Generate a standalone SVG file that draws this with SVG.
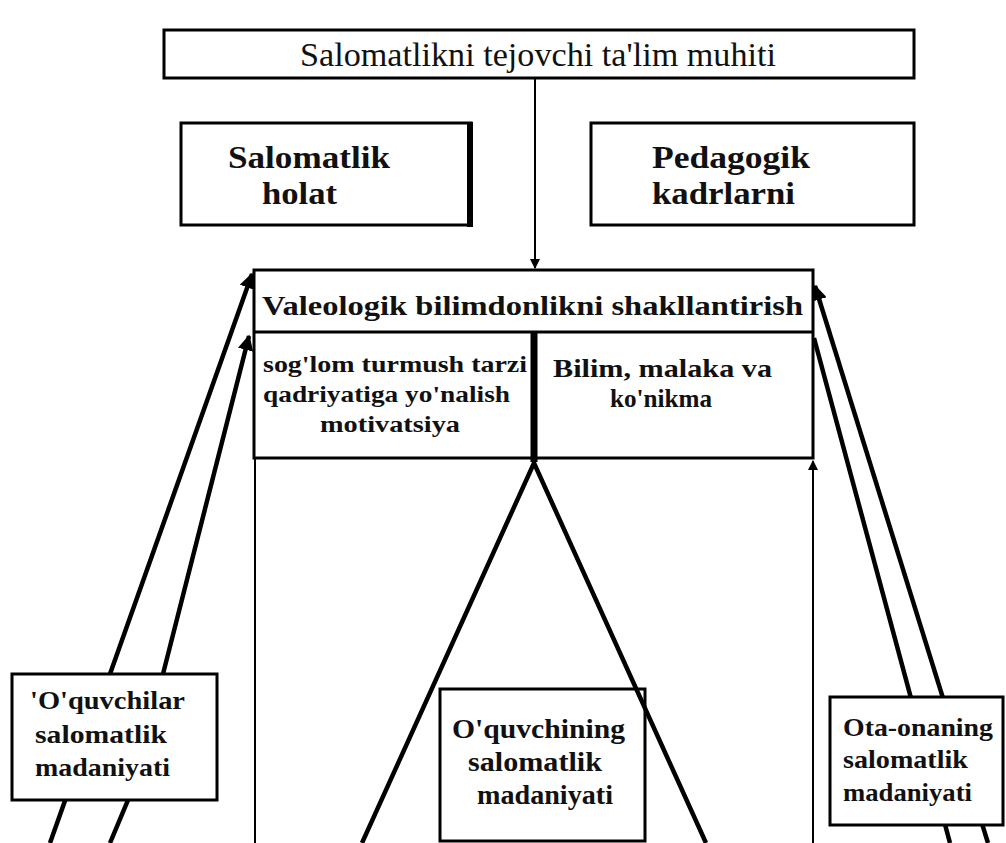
<svg xmlns="http://www.w3.org/2000/svg" width="1006" height="843" viewBox="0 0 1006 843">
<defs>
<style>
.box{fill:#fff;stroke:#000;stroke-width:3}
.t{font-family:"Liberation Serif","Times New Roman",serif;fill:#111}
.b{font-weight:bold}
.thin{stroke:#000;stroke-width:2;fill:none}
.thick{stroke:#000;stroke-width:4.5;fill:none}
</style>
<marker id="ah" viewBox="0 0 10 10" refX="9" refY="5" markerWidth="12" markerHeight="10" markerUnits="userSpaceOnUse" orient="auto">
<path d="M0,0 L10,5 L0,10 z" fill="#000"/>
</marker>
<marker id="ahs" viewBox="0 0 10 10" refX="9" refY="5" markerWidth="3.5" markerHeight="3.5" markerUnits="strokeWidth" orient="auto">
<path d="M0,0 L10,5 L0,10 z" fill="#000"/>
</marker>
</defs>
<rect width="1006" height="843" fill="#fff"/>

<g id="n-top">
<rect class="box" x="164" y="30" width="750" height="48"/>
<text class="t" x="300" y="66" font-size="33" textLength="476" lengthAdjust="spacingAndGlyphs">Salomatlikni tejovchi ta'lim muhiti</text>
</g>

<g id="n-salomatlik">
<rect class="box" x="181" y="123" width="290" height="102"/>
<line x1="470" y1="122" x2="470" y2="227" stroke="#000" stroke-width="6"/>
<text class="t b" x="228" y="168" font-size="32" textLength="162" lengthAdjust="spacingAndGlyphs">Salomatlik</text>
<text class="t b" x="262" y="204" font-size="32" textLength="75" lengthAdjust="spacingAndGlyphs">holat</text>
</g>

<g id="n-pedagogik">
<rect class="box" x="591" y="123" width="323" height="102"/>
<text class="t b" x="652" y="168" font-size="32" textLength="158" lengthAdjust="spacingAndGlyphs">Pedagogik</text>
<text class="t b" x="652" y="204" font-size="32" textLength="143" lengthAdjust="spacingAndGlyphs">kadrlarni</text>
</g>

<g id="n-valeologik">
<rect class="box" x="254" y="270" width="559" height="188"/>
<line x1="254" y1="332" x2="813" y2="332" stroke="#000" stroke-width="3"/>
<line x1="534" y1="332" x2="534" y2="462" stroke="#000" stroke-width="7"/>
<text class="t b" x="262" y="315" font-size="28" textLength="541" lengthAdjust="spacingAndGlyphs">Valeologik bilimdonlikni shakllantirish</text>
<text class="t b" x="263" y="372" font-size="24" textLength="264" lengthAdjust="spacingAndGlyphs">sog'lom turmush tarzi</text>
<text class="t b" x="263" y="402" font-size="24" textLength="247" lengthAdjust="spacingAndGlyphs">qadriyatiga yo'nalish</text>
<text class="t b" x="320" y="432" font-size="24" textLength="140" lengthAdjust="spacingAndGlyphs">motivatsiya</text>
<text class="t b" x="553" y="377" font-size="25" textLength="219" lengthAdjust="spacingAndGlyphs">Bilim, malaka va</text>
<text class="t b" x="610" y="407" font-size="25" textLength="102" lengthAdjust="spacingAndGlyphs">ko'nikma</text>
</g>

<g id="n-center">
<rect class="box" x="440" y="689" width="205" height="152"/>
<text class="t b" x="452" y="738" font-size="28" textLength="173" lengthAdjust="spacingAndGlyphs">O'quvchining</text>
<text class="t b" x="468" y="771" font-size="28" textLength="134" lengthAdjust="spacingAndGlyphs">salomatlik</text>
<text class="t b" x="477" y="804" font-size="28" textLength="136" lengthAdjust="spacingAndGlyphs">madaniyati</text>
</g>

<g id="connectors">
<line class="thin" x1="535" y1="78" x2="535" y2="268" marker-end="url(#ah)"/>
<line class="thin" x1="255" y1="458" x2="255" y2="843"/>
<line class="thin" x1="813" y1="843" x2="813" y2="461" marker-end="url(#ah)"/>
<polyline class="thick" points="362,843 534,463 706,843" stroke-linejoin="miter"/>
<line class="thick" x1="50" y1="843" x2="252" y2="274" marker-end="url(#ahs)"/>
<polyline class="thick" points="110,843 128,800 163,674 249,336" marker-end="url(#ahs)"/>
<line class="thick" x1="988" y1="843" x2="815" y2="286" marker-end="url(#ahs)"/>
<line class="thick" x1="950" y1="843" x2="814" y2="338"/>
</g>

<g id="n-oquvchilar">
<rect class="box" x="12" y="674" width="205" height="126"/>
<text class="t b" x="30" y="709" font-size="26" textLength="155" lengthAdjust="spacingAndGlyphs">'O'quvchilar</text>
<text class="t b" x="35" y="743" font-size="26" textLength="132" lengthAdjust="spacingAndGlyphs">salomatlik</text>
<text class="t b" x="35" y="776" font-size="26" textLength="135" lengthAdjust="spacingAndGlyphs">madaniyati</text>
</g>

<g id="n-otaona">
<rect class="box" x="830" y="697" width="173" height="128"/>
<text class="t b" x="843" y="736" font-size="26" textLength="150" lengthAdjust="spacingAndGlyphs">Ota-onaning</text>
<text class="t b" x="843" y="768" font-size="26" textLength="125" lengthAdjust="spacingAndGlyphs">salomatlik</text>
<text class="t b" x="843" y="801" font-size="26" textLength="129" lengthAdjust="spacingAndGlyphs">madaniyati</text>
</g>
</svg>
